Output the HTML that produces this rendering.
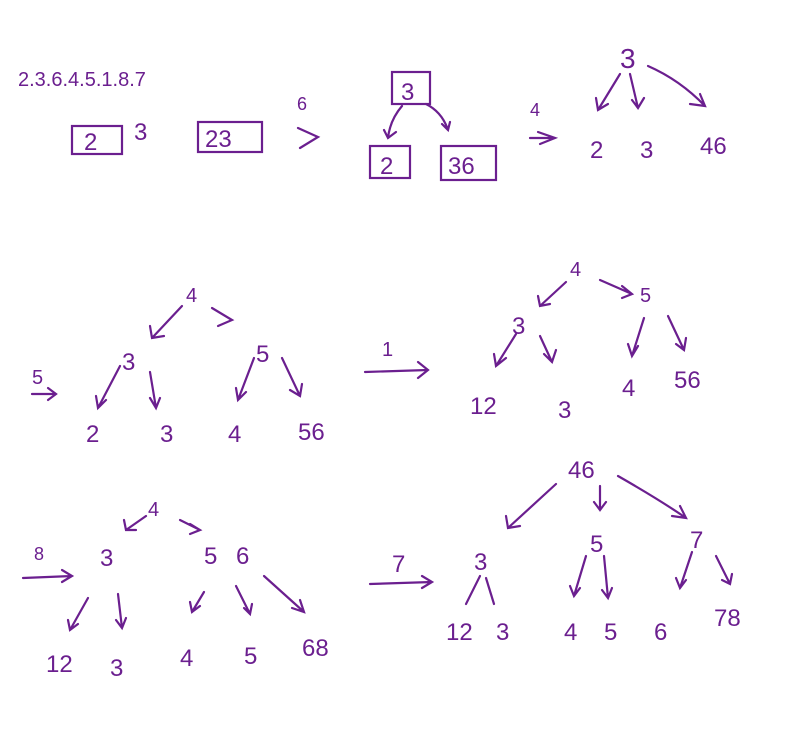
<!DOCTYPE html>
<html><head><meta charset="utf-8"><style>
html,body{margin:0;padding:0;background:#fff;}
svg{display:block}
text{font-family:"Liberation Sans",sans-serif;fill:#6b1f8f;}
</style></head><body>
<svg width="793" height="729" viewBox="0 0 793 729" xmlns="http://www.w3.org/2000/svg">
<g stroke="#6b1f8f" stroke-width="2.2" fill="none" stroke-linecap="round">
<!-- row 1 -->
<rect x="72" y="126" width="50" height="28"/>
<rect x="198" y="122" width="64" height="30"/>
<path d="M298 128 L318 137 L300 148"/>
<rect x="392" y="72" width="38" height="32"/>
<rect x="370" y="146" width="40" height="32"/>
<rect x="441" y="146" width="55" height="34"/>
<path d="M402 106 Q390 120 388 138 M384 130 L388 138 L396 132"/>
<path d="M426 104 Q442 112 448 130 M442 124 L448 130 L450 122"/>
<path d="M538 132 L555 138 L540 144 M530 138 L555 138"/>
<path d="M620 74 L598 110 M596 98 L598 110 L608 104"/>
<path d="M630 74 L638 108 M632 100 L638 108 L644 98"/>
<path d="M648 66 Q680 80 705 106 M690 104 L705 106 L700 94"/>
<!-- row 2 left -->
<path d="M182 306 L152 338 M150 326 L152 338 L164 336"/>
<path d="M212 308 L232 320 L218 326"/>
<path d="M120 366 L98 408 M96 396 L98 408 L106 400"/>
<path d="M150 372 L156 408 M150 398 L156 408 L160 398"/>
<path d="M254 358 L238 400 M236 388 L238 400 L246 392"/>
<path d="M282 358 L300 396 M290 390 L300 396 L302 384"/>
<path d="M32 394 L56 394 M48 388 L56 394 L48 400"/>
<path d="M365 372 L428 370 M418 362 L428 370 L418 378"/>
<!-- row 2 right -->
<path d="M566 282 L540 306 M538 296 L540 306 L550 304"/>
<path d="M600 280 L632 294 M622 286 L632 294 L622 298"/>
<path d="M516 334 L496 366 M494 354 L496 366 L506 358"/>
<path d="M540 336 L552 362 M544 354 L552 362 L556 350"/>
<path d="M644 318 L632 356 M628 344 L632 356 L638 346"/>
<path d="M668 316 L684 350 M676 344 L684 350 L686 338"/>
<!-- row 3 left -->
<path d="M23 578 L72 576 M62 570 L72 576 L62 582"/>
<path d="M146 516 L126 530 M124 520 L126 530 L136 530"/>
<path d="M180 520 L200 530 M190 524 L200 530 L190 534"/>
<path d="M88 598 L70 630 M68 620 L70 630 L78 624"/>
<path d="M118 594 L122 628 M116 620 L122 628 L126 618"/>
<path d="M204 592 L192 612 M190 602 L192 612 L200 606"/>
<path d="M236 586 L250 614 M244 608 L250 614 L252 604"/>
<path d="M264 576 L304 612 M292 608 L304 612 L300 600"/>
<path d="M370 584 L432 582 M422 576 L432 582 L422 588"/>
<!-- row 3 right -->
<path d="M556 484 L508 528 M506 516 L508 528 L520 526"/>
<path d="M600 486 L600 510 M594 502 L600 510 L606 502"/>
<path d="M618 476 Q660 500 686 518 M672 516 L686 518 L680 506"/>
<path d="M480 576 L466 604"/>
<path d="M486 578 L494 604"/>
<path d="M586 556 L574 596 M570 586 L574 596 L580 588"/>
<path d="M604 556 L608 598 M602 590 L608 598 L612 588"/>
<path d="M692 552 L680 588 M676 578 L680 588 L686 580"/>
<path d="M716 556 L730 584 M722 580 L730 584 L732 574"/>
</g>
<g font-size="24">
<text x="18" y="86" font-size="20">2.3.6.4.5.1.8.7</text>
<text x="84" y="150">2</text>
<text x="134" y="140">3</text>
<text x="205" y="147">23</text>
<text x="297" y="110" font-size="18">6</text>
<text x="401" y="100">3</text>
<text x="380" y="174">2</text>
<text x="448" y="174">36</text>
<text x="530" y="116" font-size="18">4</text>
<text x="620" y="68" font-size="28">3</text>
<text x="590" y="158">2</text>
<text x="640" y="158">3</text>
<text x="700" y="154">46</text>
<text x="186" y="302" font-size="20">4</text>
<text x="122" y="370">3</text>
<text x="256" y="362">5</text>
<text x="86" y="442">2</text>
<text x="160" y="442">3</text>
<text x="228" y="442">4</text>
<text x="298" y="440">56</text>
<text x="32" y="384" font-size="20">5</text>
<text x="382" y="356" font-size="20">1</text>
<text x="570" y="276" font-size="20">4</text>
<text x="640" y="302" font-size="20">5</text>
<text x="512" y="334">3</text>
<text x="470" y="414">12</text>
<text x="558" y="418">3</text>
<text x="622" y="396">4</text>
<text x="674" y="388">56</text>
<text x="148" y="516" font-size="20">4</text>
<text x="34" y="560" font-size="18">8</text>
<text x="100" y="566">3</text>
<text x="204" y="564">5</text>
<text x="236" y="564">6</text>
<text x="46" y="672">12</text>
<text x="110" y="676">3</text>
<text x="180" y="666">4</text>
<text x="244" y="664">5</text>
<text x="302" y="656">68</text>
<text x="392" y="572">7</text>
<text x="568" y="478">46</text>
<text x="474" y="570">3</text>
<text x="590" y="552">5</text>
<text x="690" y="548">7</text>
<text x="446" y="640">12</text>
<text x="496" y="640">3</text>
<text x="564" y="640">4</text>
<text x="604" y="640">5</text>
<text x="654" y="640">6</text>
<text x="714" y="626">78</text>
</g>
</svg>
</body></html>
